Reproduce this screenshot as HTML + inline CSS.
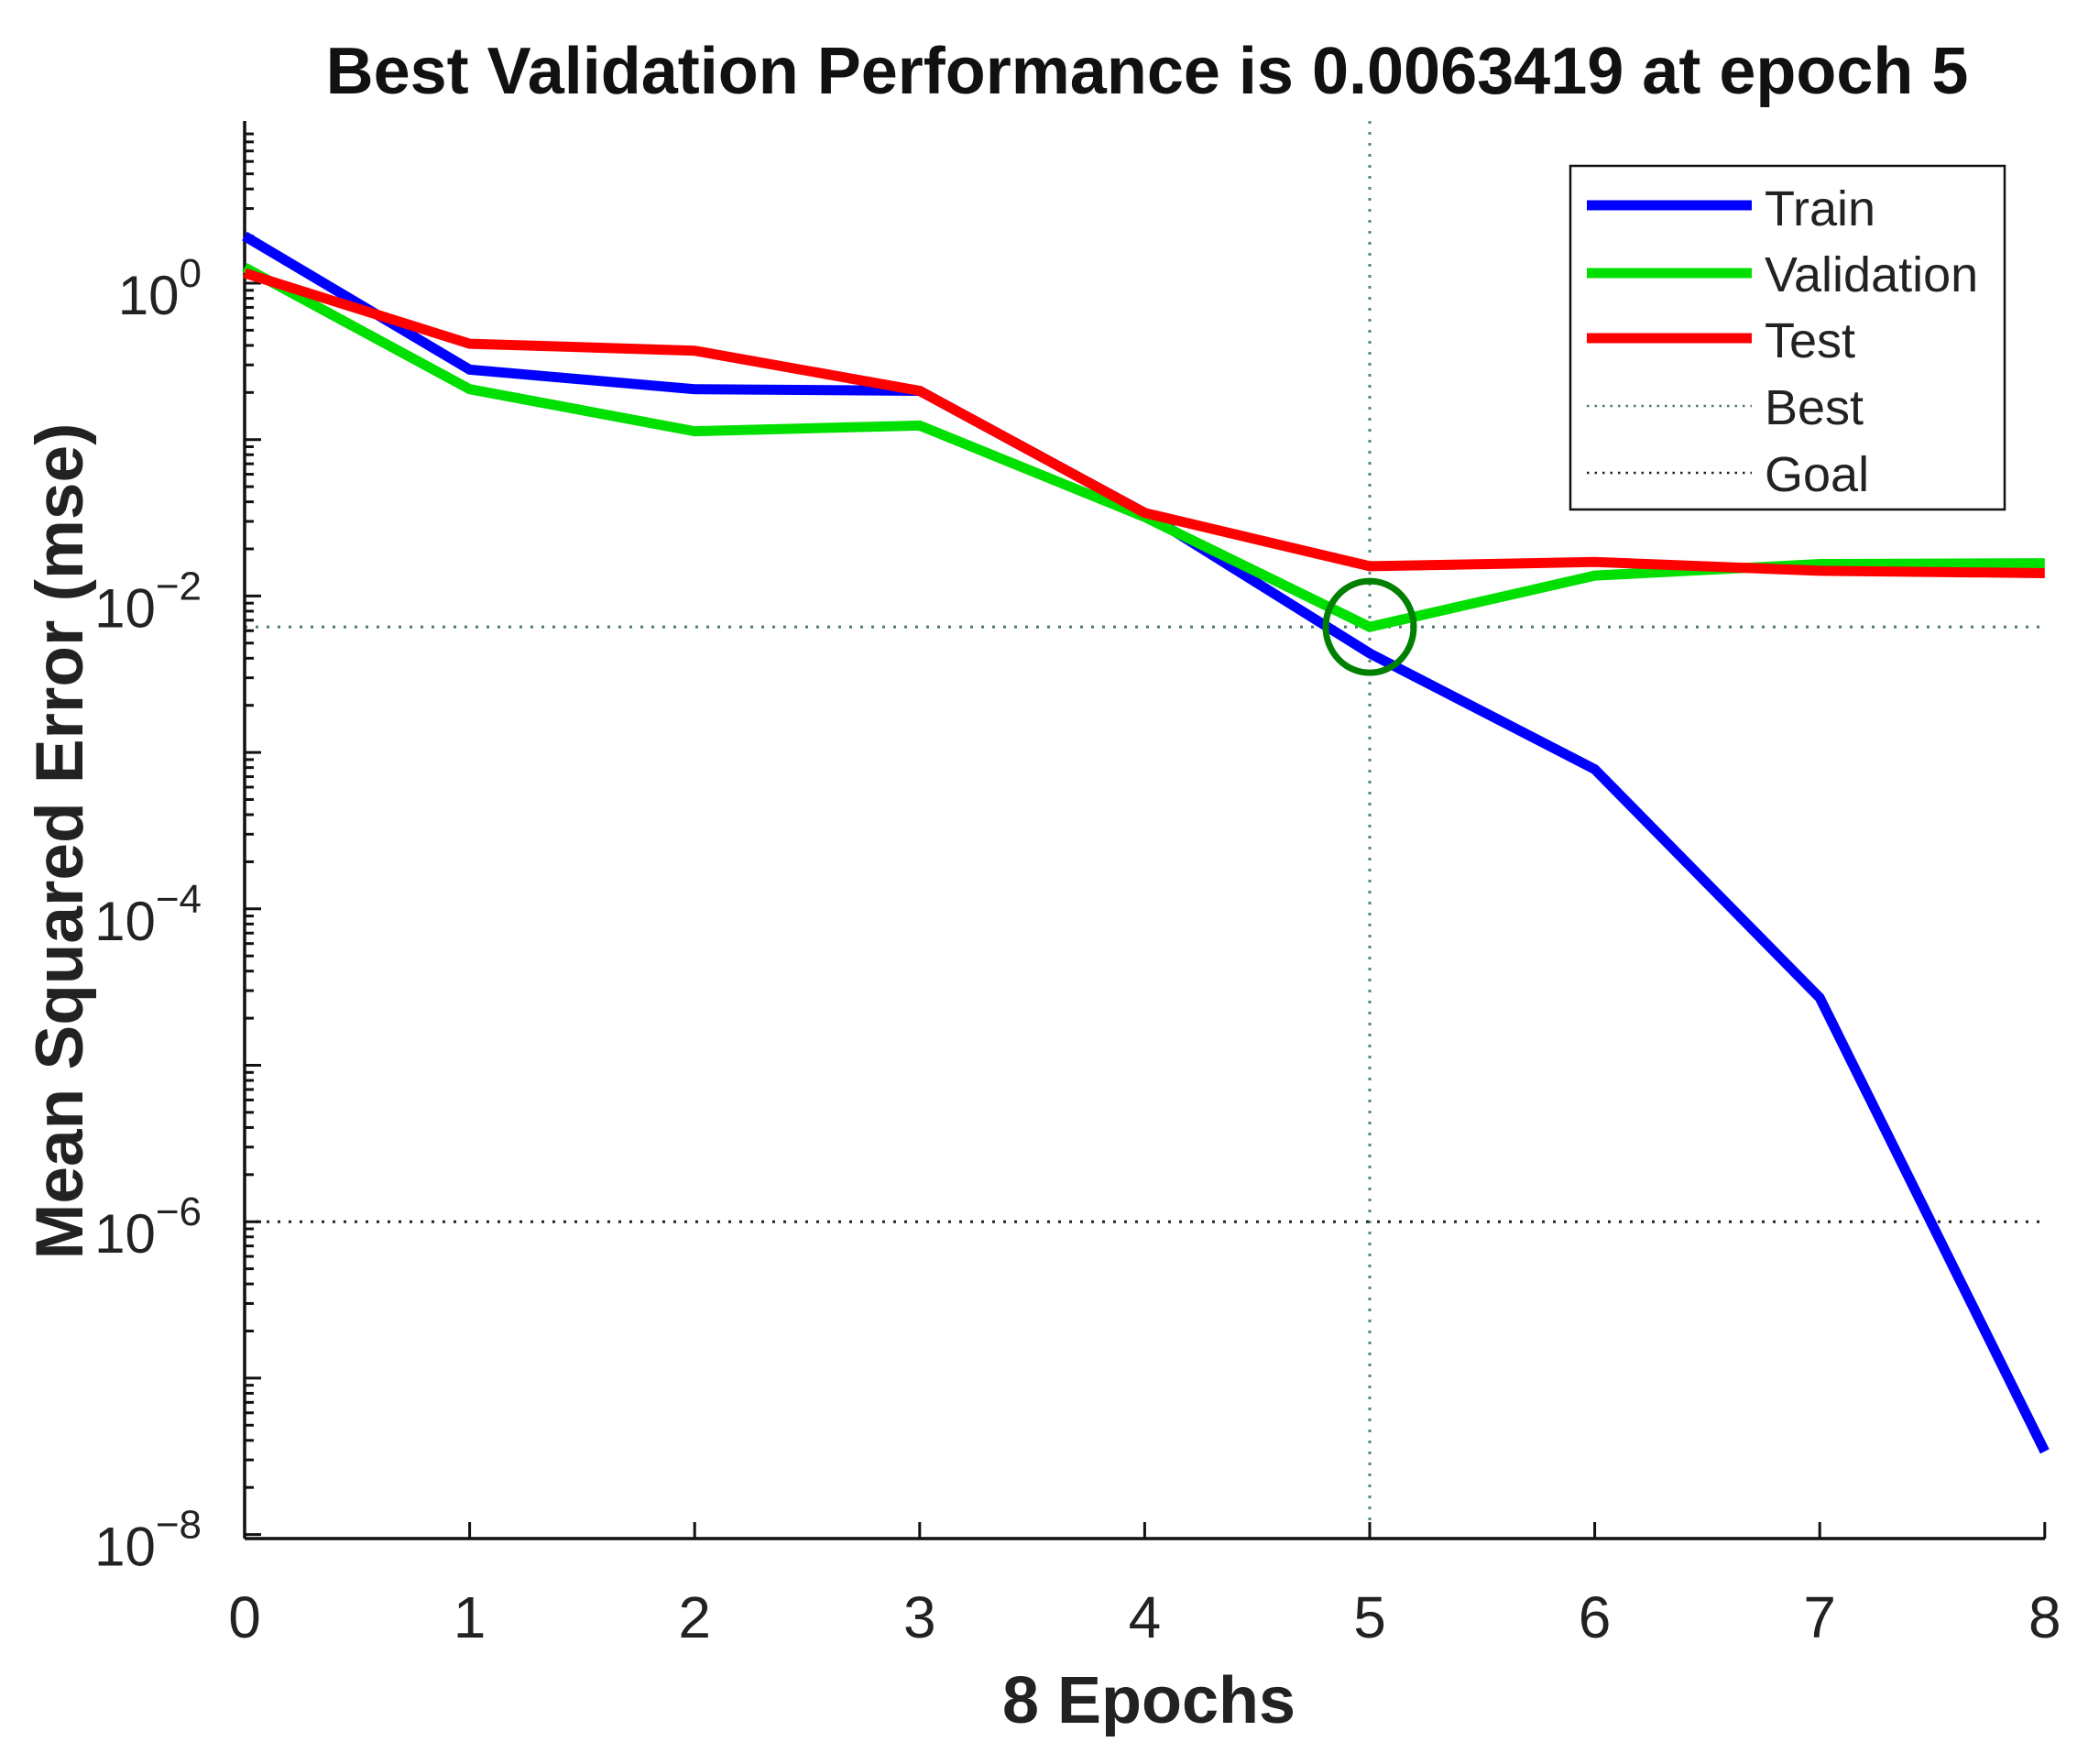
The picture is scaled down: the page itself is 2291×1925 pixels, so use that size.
<!DOCTYPE html>
<html><head><meta charset="utf-8"><style>
html,body{margin:0;padding:0;background:#fff;}
svg{display:block;font-family:"Liberation Sans",Arial,sans-serif;}
</style></head><body>
<svg id="chart" width="2291" height="1925" viewBox="0 0 2291 1925" xmlns="http://www.w3.org/2000/svg">
<rect width="2291" height="1925" fill="#fff"/>
<text x="1252" y="102" font-size="72" font-weight="bold" text-anchor="middle" fill="#111">Best Validation Performance is 0.0063419 at epoch 5</text>
<text x="1254" y="1880" font-size="72" font-weight="bold" text-anchor="middle" fill="#222">8 Epochs</text>
<text transform="translate(90,918) rotate(-90)" font-size="73" font-weight="bold" text-anchor="middle" fill="#222">Mean Squared Error  (mse)</text>
<g id="grid"></g>
<g id="axes"></g>
<g id="series"></g>
<g id="legend">
<rect x="1714" y="181" width="474" height="375" fill="#fff" stroke="#111" stroke-width="2.5"/>
<line x1="1732" y1="224" x2="1912" y2="224" stroke="#0000ff" stroke-width="11"/>
<text x="1926" y="246" font-size="54" fill="#222">Train</text>
<line x1="1732" y1="298" x2="1912" y2="298" stroke="#00e000" stroke-width="11"/>
<text x="1926" y="318" font-size="54" fill="#222">Validation</text>
<line x1="1732" y1="369" x2="1912" y2="369" stroke="#ff0000" stroke-width="11"/>
<text x="1926" y="390" font-size="54" fill="#222">Test</text>
<line x1="1732" y1="443" x2="1912" y2="443" stroke="#4a7a6a" stroke-width="2.5" stroke-dasharray="2.5 6"/>
<text x="1926" y="463" font-size="54" fill="#222">Best</text>
<line x1="1732" y1="516" x2="1912" y2="516" stroke="#222" stroke-width="2.5" stroke-dasharray="2.5 6"/>
<text x="1926" y="536" font-size="54" fill="#222">Goal</text>
</g>
</svg>
<script>
const epochs = [0,1,2,3,4,5,6,7,8];
const trainMse = [2.0,0.28,0.21,0.205,0.034,0.0043,0.00078,0.000027,0.000000034];
const validationMse = [1.26,0.21,0.113,0.123,0.032,0.0063419,0.0135,0.016,0.0162];
const testMse = [1.16,0.41,0.37,0.205,0.034,0.0155,0.0165,0.0145,0.014];
const bestEpoch = 5;
const bestValue = 0.0063419;
const goalValue = 1e-6;
const yTickExps = [0,-2,-4,-6,-8];
const xTickLabels = ['0','1','2','3','4','5','6','7','8'];

const NS='http://www.w3.org/2000/svg';
const X0=267, DX=245.6, Y0=309, DEC=170.7, LEFT=267, RIGHT=2232, TOP=132, BOTTOM=1679;
function xs(v){return X0+v*DX;}
function ys(v){return Y0-Math.log10(v)*DEC;}
function mk(tag,attrs,parent){const e=document.createElementNS(NS,tag);for(const k in attrs)e.setAttribute(k,attrs[k]);parent.appendChild(e);return e;}
const axes=document.getElementById('axes'), grid=document.getElementById('grid'), series=document.getElementById('series');

let a=mk('line',{x1:LEFT,y1:TOP,x2:LEFT,y2:BOTTOM,stroke:'#111','stroke-width':3.5},axes);


a=mk('line',{x1:LEFT,y1:BOTTOM,x2:RIGHT,y2:BOTTOM,stroke:'#111','stroke-width':3.5},axes);



for(let e=1;e>=-8;e--){
  for(let m=1;m<=9;m++){
    const v=m*Math.pow(10,e-1);
    const y=ys(v);
    if(y<TOP||y>BOTTOM)continue;
    const t=mk('line',{x1:LEFT,y1:y,x2:LEFT+(m===1?18:10),y2:y,stroke:'#111','stroke-width':3},axes);
    
    
  }
}
yTickExps.forEach(ex=>{
  const y=ys(Math.pow(10,ex));
  const t=mk('text',{x:220,y:y+34,'font-size':60,'text-anchor':'end',fill:'#222'},axes);
  const s1=document.createElementNS(NS,'tspan');s1.textContent='10';t.appendChild(s1);
  const s2=document.createElementNS(NS,'tspan');s2.setAttribute('dy','-30');s2.setAttribute('font-size','44');s2.textContent=(ex<0?'\u2212':'')+Math.abs(ex);t.appendChild(s2);
  
  
});
xTickLabels.forEach((lab,i)=>{
  const x=xs(epochs[i]);
  const t=mk('line',{x1:x,y1:BOTTOM,x2:x,y2:BOTTOM-18,stroke:'#111','stroke-width':3},axes);
  
  
  const l=mk('text',{x:x,y:1787,'font-size':64,'text-anchor':'middle',fill:'#222'},axes);
  l.textContent=lab;
  
  
});

let g=mk('line',{x1:LEFT,y1:ys(bestValue),x2:RIGHT,y2:ys(bestValue),stroke:'#4a7a6a','stroke-width':3,'stroke-dasharray':'3 9'},grid);


g=mk('line',{x1:xs(bestEpoch),y1:TOP,x2:xs(bestEpoch),y2:BOTTOM,stroke:'#4a8a7a','stroke-width':3,'stroke-dasharray':'3 9'},grid);


g=mk('line',{x1:LEFT,y1:ys(goalValue),x2:RIGHT,y2:ys(goalValue),stroke:'#222','stroke-width':3,'stroke-dasharray':'3 9'},grid);



function drawSeries(vals,color,name){
  const pts=vals.map((v,i)=>xs(epochs[i])+','+ys(v)).join(' ');
  const p=mk('polyline',{points:pts,fill:'none',stroke:color,'stroke-width':11,'stroke-linejoin':'miter'},series);
  
  
}
drawSeries(trainMse,'#0000ff','train-line');
drawSeries(validationMse,'#00e000','validation-line');
drawSeries(testMse,'#ff0000','test-line');
const c=mk('ellipse',{cx:xs(bestEpoch),cy:ys(bestValue),rx:48,ry:50,fill:'none',stroke:'#008000','stroke-width':7},series);


</script>
</body></html>
